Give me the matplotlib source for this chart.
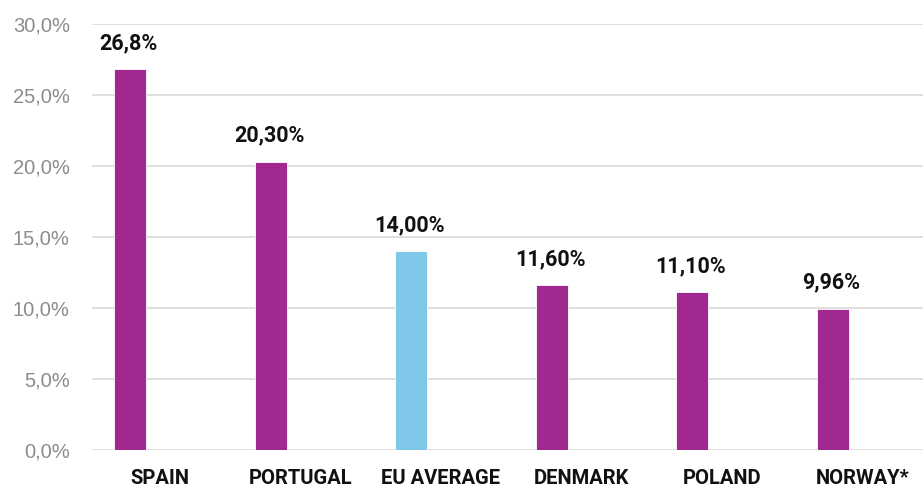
import matplotlib
matplotlib.use("Agg")
import matplotlib.pyplot as plt
from matplotlib.ticker import FuncFormatter, MultipleLocator

plt.rcParams["font.family"] = ["Roboto", "DejaVu Sans"]

countries = ["SPAIN", "PORTUGAL", "EU AVERAGE", "DENMARK", "POLAND", "NORWAY*"]
values = [26.8, 20.30, 14.00, 11.60, 11.10, 9.96]
value_labels = ["26,8%", "20,30%", "14,00%", "11,60%", "11,10%", "9,96%"]
is_average = [False, False, True, False, False, False]

PURPLE = "#A0288E"
BLUE = "#80C8EA"

fig = plt.figure(figsize=(9.23, 4.88), dpi=100)
ax = fig.add_axes([92 / 923, 38 / 488, 831 / 923, 426 / 488])

x = list(range(len(countries)))
bar_offset = -0.21   # bars sit left of the category label, as in the source
bar_w = 0.228
colors = [BLUE if avg else PURPLE for avg in is_average]
bx = [xi + bar_offset for xi in x]
ax.bar(bx, values, width=bar_w, color=colors, edgecolor="white", linewidth=0.6, zorder=3)

for xi, v, lab in zip(bx, values, value_labels):
    ax.annotate(lab, (xi, v), xytext=(-1, 11), textcoords="offset points",
                ha="center", va="bottom", fontsize=15.5, fontweight="bold", color="#111111")

ax.set_xlim(-0.48, 5.43)
ax.set_ylim(0, 30)
ax.yaxis.set_major_locator(MultipleLocator(5))
ax.yaxis.set_major_formatter(FuncFormatter(lambda v, _: f"{v:.1f}%".replace(".", ",")))
ax.set_xticks(x)
ax.set_xticklabels(countries, fontsize=14.5, fontweight="bold", color="#111111")
ax.tick_params(axis="y", length=0, pad=16)
for t in ax.get_yticklabels():
    t.set_fontfamily(["Liberation Sans", "DejaVu Sans"])
    t.set_fontsize(14.5)
    t.set_color("#8c8c8c")
ax.tick_params(axis="x", length=0, pad=14)

ax.grid(axis="y", color="#dcdcdc", linewidth=1.3, zorder=0)
ax.set_axisbelow(True)
for s in ax.spines.values():
    s.set_visible(False)

fig.savefig("out.png", dpi=100)
